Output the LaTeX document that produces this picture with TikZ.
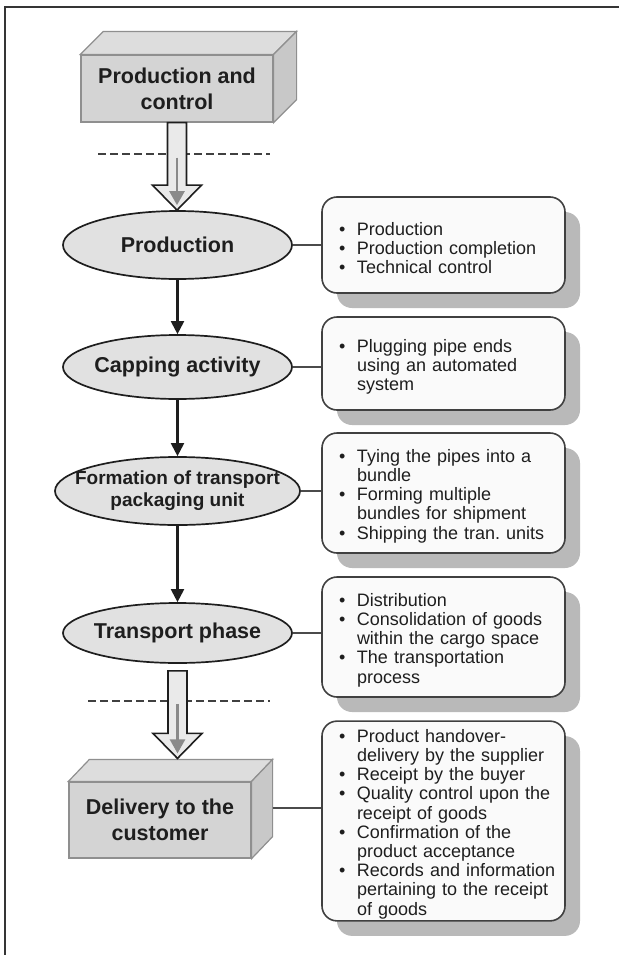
\documentclass[tikz,border=0pt]{standalone}
\usepackage{fontspec}
\setmainfont{Liberation Sans}
\usetikzlibrary{arrows.meta,shapes.geometric,shadows,calc}

\definecolor{ink}{HTML}{1E1E1E}
\definecolor{edgegray}{HTML}{8F8F8F}
\definecolor{frontgray}{HTML}{D4D4D4}
\definecolor{topgray}{HTML}{DDDDDD}
\definecolor{sidegray}{HTML}{C8C8C8}
\definecolor{ovalfill}{HTML}{E1E1E1}
\definecolor{shadowgray}{HTML}{B9B9B9}
\definecolor{boxfill}{HTML}{FAFAFA}
\definecolor{coregray}{HTML}{8A8A8A}

\hyphenpenalty=10000
\frenchspacing
% one bullet line in a list box
\newcommand{\bitem}[1]{\par\hangindent=27.5bp\hangafter=1\noindent\makebox[27.5bp][l]{\hspace{9.5bp}\textbullet}#1\par}

\tikzset{
  face/.style={draw=edgegray, line width=1.2bp},
  stagebox/.style={face, fill=frontgray, inner sep=0bp, align=center, text=ink,
    font=\fontsize{21.5bp}{26bp}\selectfont\bfseries},
  stage/.style={ellipse, draw=ink, line width=1.7bp, fill=ovalfill, inner xsep=-16bp,
    inner ysep=0bp, align=center, text=ink, font=\fontsize{21.5bp}{26bp}\selectfont\bfseries},
  listbox/.style={rectangle, rounded corners=15bp, draw=ink!85, line width=1.6bp,
    fill=boxfill, minimum width=243bp, inner xsep=0bp, inner ysep=2bp, text width=228bp,
    align=left, text=ink, font=\fontsize{18bp}{19.2bp}\selectfont,
    drop shadow={shadow xshift=15bp, shadow yshift=-15bp, fill=shadowgray, opacity=1}},
  flow/.style={->, line width=2.1bp, draw=ink},
  link/.style={line width=1.6bp, draw=ink!80},
  cut/.style={dash pattern=on 8bp off 4bp, line width=1.8bp, draw=ink!85},
  hollow/.style={draw=ink, line width=1.6bp, fill=ovalfill!70!white},
}

\begin{document}
\begin{tikzpicture}[x=1bp, y=-1bp, >={Triangle[length=13bp,width=13bp]}]
\useasboundingbox (0,0) rectangle (619,955);
\draw[line width=1.8bp, ink!90] (5,955) -- (5,7) -- (619,7);

% stages of the flow
  \node[stagebox, minimum width=192bp, minimum height=67bp] (pc)  at (177,88.5) {Production and\\control};
  \node[stage, minimum width=229bp, minimum height=68bp] (prod)   at (177.5,245) {Production};
  \node[stage, minimum width=229bp, minimum height=64bp] (cap)    at (177.5,367) {Capping activity};
  \node[stage, minimum width=245bp, minimum height=68bp,
        font=\fontsize{19bp}{22bp}\selectfont\bfseries] (form)   at (177.5,491) {Formation of transport\\packaging unit};
  \node[stage, minimum width=229bp, minimum height=60bp] (trans)  at (177.5,633) {Transport phase};
  \node[stagebox, minimum width=182bp, minimum height=76bp] (dlv) at (160,820) {Delivery to the\\customer};

% the two boxes drawn in depth
  \foreach \b/\dx/\dy in {pc/23/23, dlv/21/22}{
    \path[face, fill=topgray] (\b.north west) -- ++(\dx,-\dy) -- ($(\b.north east)+(\dx,-\dy)$) -- (\b.north east) -- cycle;
    \path[face, fill=sidegray] (\b.north east) -- ++(\dx,-\dy) -- ($(\b.south east)+(\dx,-\dy)$) -- (\b.south east) -- cycle;
  }

% what happens at each stage
  \node[listbox, minimum height=96bp]  (b1) at (443.5,245)   {\bitem{Production}\bitem{Production completion}\bitem{Technical control}};
  \node[listbox, minimum height=93bp]  (b2) at (443.5,363.5) {\bitem{Plugging pipe ends\newline using an automated\newline system}};
  \node[listbox, minimum height=120bp] (b3) at (443.5,493)   {\bitem{Tying the pipes into a\newline bundle}\bitem{Forming multiple\newline bundles for shipment}\bitem{Shipping the tran. units}};
  \node[listbox, minimum height=120bp] (b4) at (443.5,637)   {\bitem{Distribution}\bitem{Consolidation of goods\newline within the cargo space}\bitem{The transportation\newline process}};
  \node[listbox, minimum height=198bp] (b5) at (443.5,821)   {\bitem{Product handover-\newline delivery by the supplier}\bitem{Receipt by the buyer}\bitem{Quality control upon the\newline receipt of goods}\bitem{Confirmation of the\newline product acceptance}\bitem{Records and information\newline pertaining to the receipt\newline of goods}};

% define the links
  \draw[flow] (prod) -- (cap);
  \draw[flow] (cap) -- (form);
  \draw[flow] (form) -- (trans);
  \coordinate (dlvside) at ($(dlv.east)+(21,-12)$);
  \path[link] (prod.east)  edge (prod.east -| b1.west)
              (cap.east)   edge (cap.east -| b2.west)
              (form.east)  edge (form.east -| b3.west)
              (trans.east) edge (trans.east -| b4.west)
              (dlvside)    edge (dlvside -| b5.west);

% dashed cuts and the hollow arrows across them
  \draw[cut] (98,154) -- (270,154);
  \draw[cut] (88,701) -- (270,701);
  \coordinate (top1) at (pc.south);
  \coordinate (tip1) at (pc.south |- prod.north);
  \coordinate (cut1) at ($(top1)+(0,35)$);
  \coordinate (top2) at ($(trans.south)+(0,7)$);
  \coordinate (tip2) at ($(trans.south |- dlv.north)+(0,-23)$);
  \coordinate (cut2) at ($(top2)+(0,33)$);
  \foreach \a/\b/\c in {top1/tip1/cut1, top2/tip2/cut2}{
    \draw[hollow] ($(\a)+(-9.5,0)$) -- ($(\b)+(-9.5,-25)$) -- ($(\b)+(-24.5,-25)$) -- (\b)
      -- ($(\b)+(24.5,-25)$) -- ($(\b)+(9.5,-25)$) -- ($(\a)+(9.5,0)$) -- cycle;
    \draw[coregray, line width=2.5bp, -{Triangle[length=14bp,width=15bp]}] (\c) -- ($(\b)+(0,-5)$);
  }
\end{tikzpicture}
\end{document}
